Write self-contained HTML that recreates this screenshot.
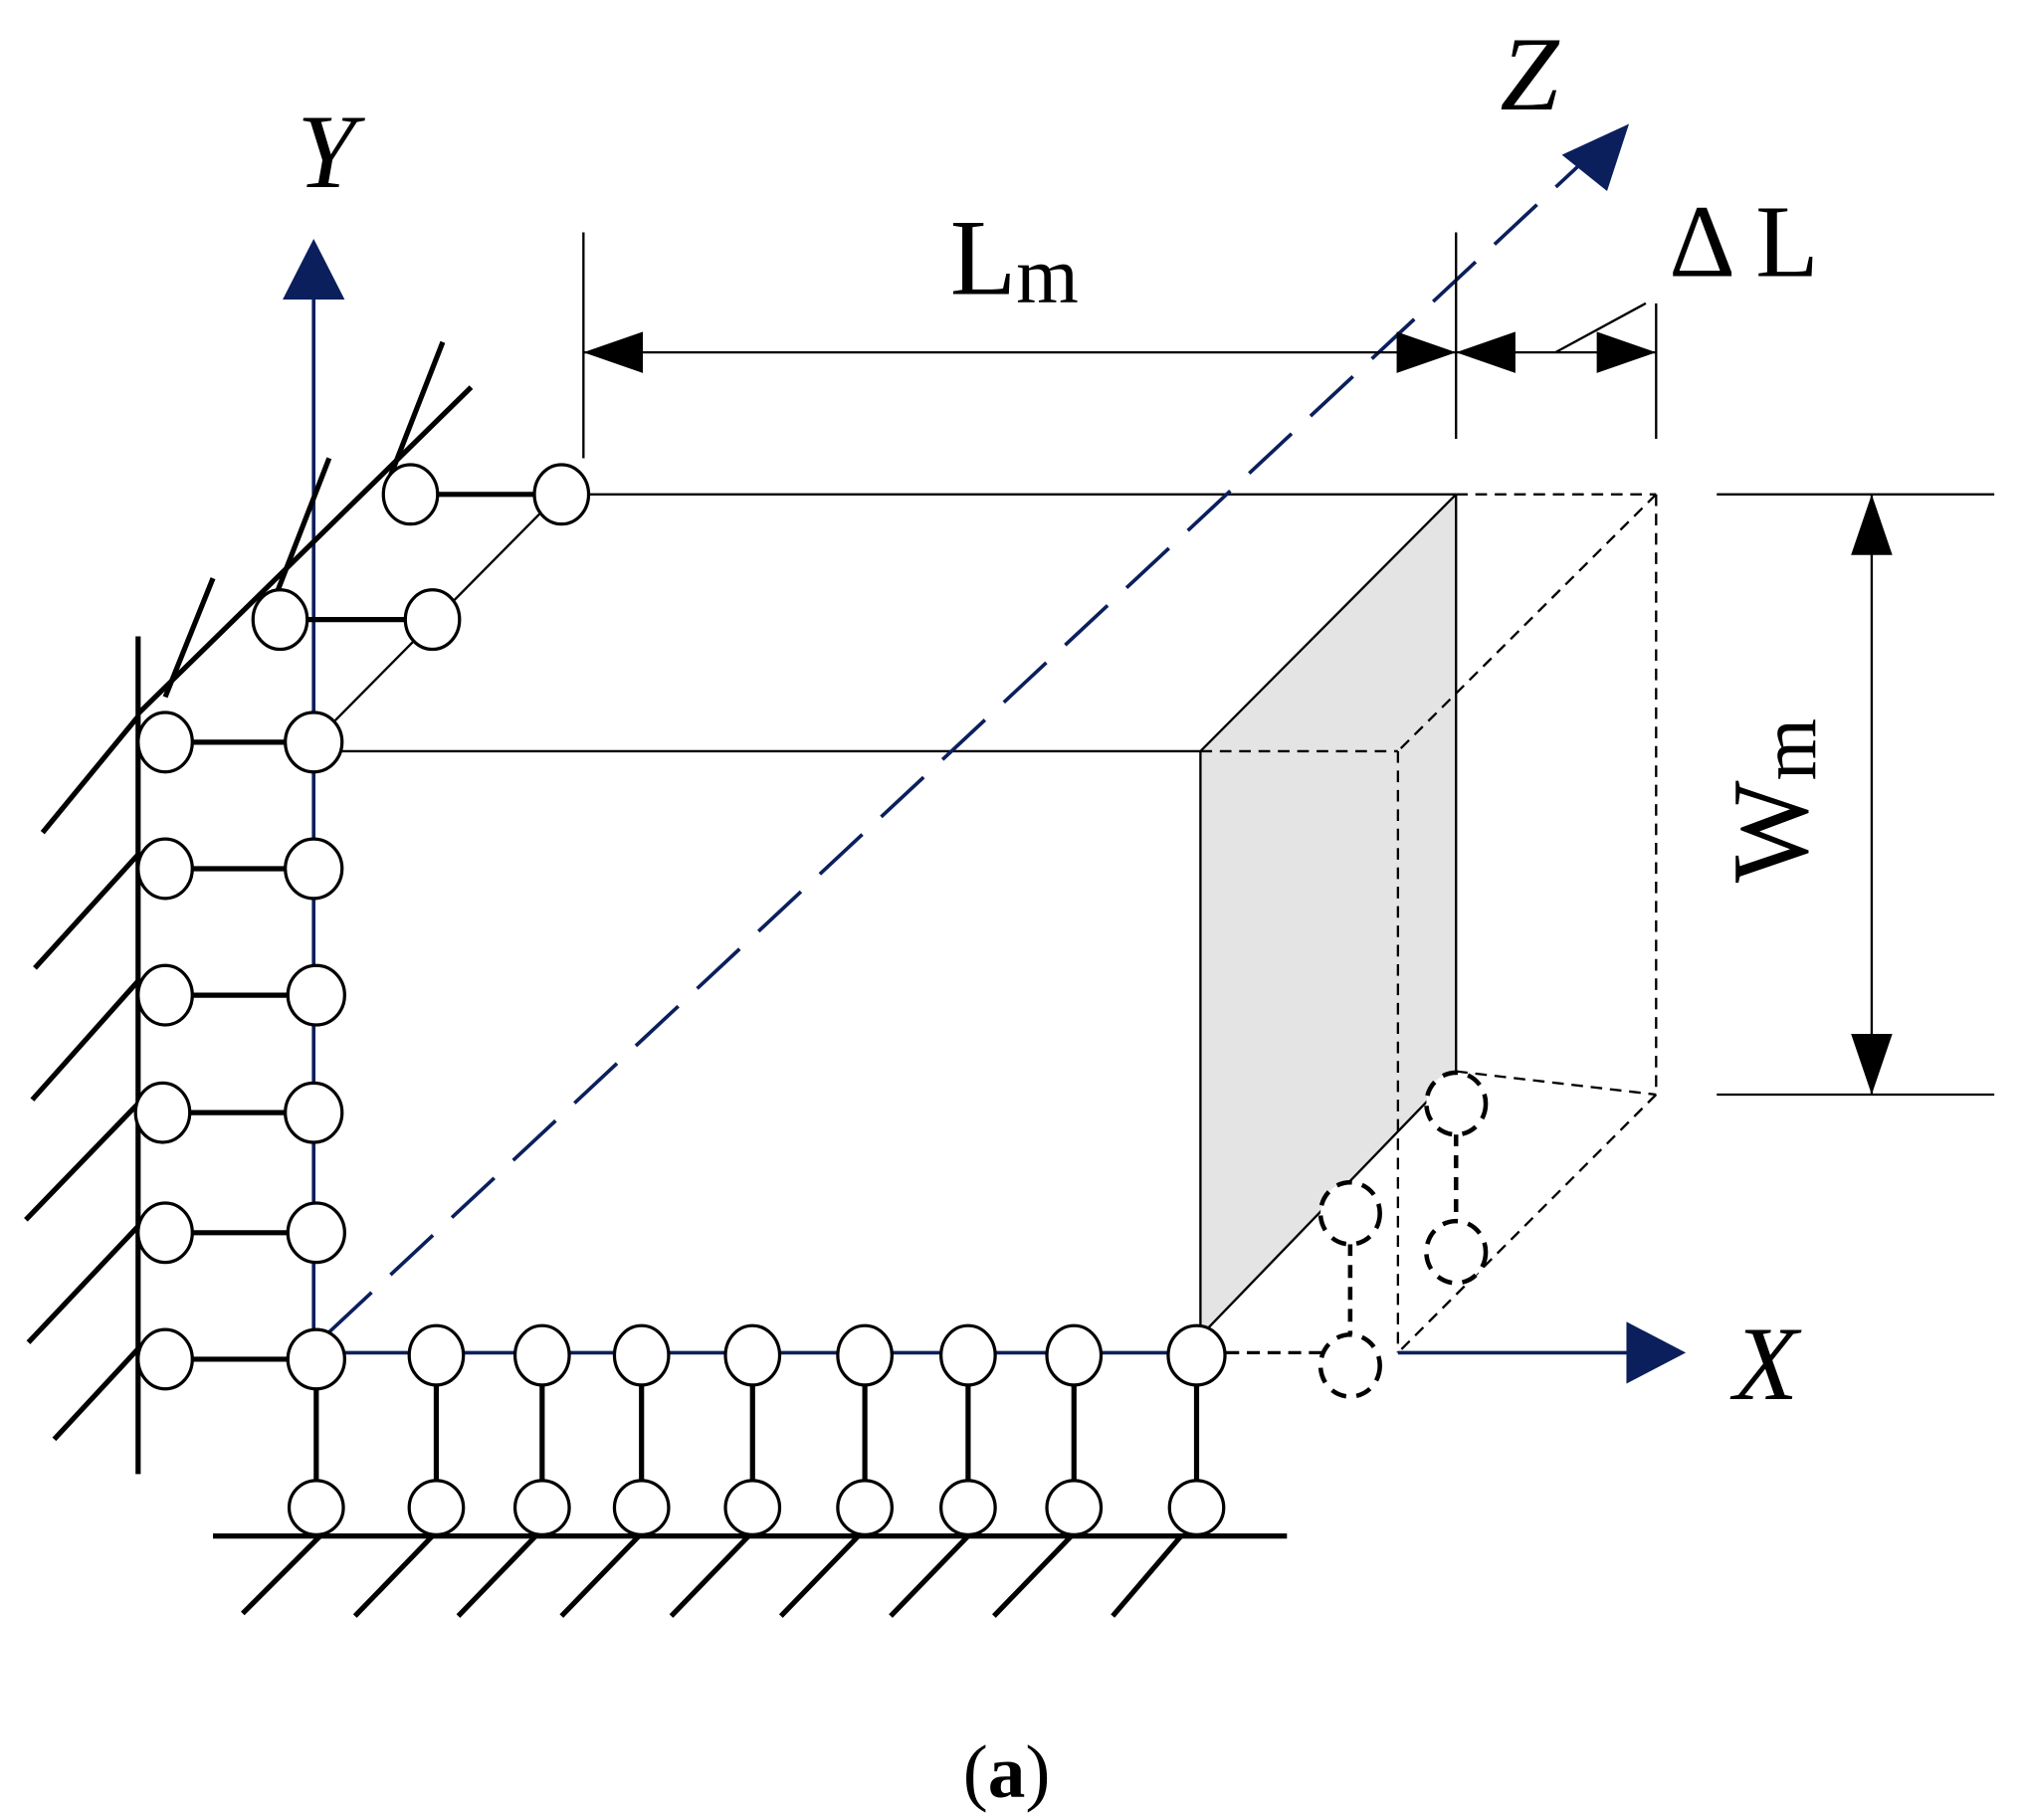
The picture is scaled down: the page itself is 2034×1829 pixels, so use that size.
<!DOCTYPE html>
<html><head><meta charset="utf-8"><style>html,body{margin:0;padding:0;background:#fff}svg{display:block}</style></head><body>
<svg width="2034" height="1829" viewBox="0 0 1568 1410" preserveAspectRatio="none" xmlns="http://www.w3.org/2000/svg">
<rect width="1568" height="1410" fill="#fff"/>
<polygon points="930,582 1128,383 1128,830 930,1035" fill="#e4e4e4"/>
<g stroke="#000" stroke-width="1.8" fill="none">
<line x1="455" y1="383" x2="1128" y2="383"/>
<line x1="243" y1="582" x2="930" y2="582"/>
<line x1="433" y1="383" x2="243" y2="575"/>
<line x1="1128" y1="383" x2="930" y2="582"/>
<line x1="930" y1="582" x2="930" y2="1035"/>
<line x1="1128" y1="383" x2="1128" y2="830"/>
<line x1="1128" y1="830" x2="930" y2="1035"/>
</g>
<g stroke="#000" stroke-width="1.8" fill="none" stroke-dasharray="9,6">
<line x1="1128" y1="383" x2="1283" y2="383"/>
<line x1="1283" y1="383" x2="1283" y2="848"/>
<line x1="1283" y1="383" x2="1083" y2="582"/>
<line x1="930" y1="582" x2="1083" y2="582"/>
<line x1="1083" y1="582" x2="1083" y2="1048"/>
<line x1="1128" y1="830" x2="1283" y2="848"/>
<line x1="1283" y1="848" x2="1083" y2="1048"/>
</g>
<g stroke="#0a1f5c" stroke-width="2.8" fill="none">
<line x1="243" y1="1050" x2="243" y2="228"/>
<line x1="243" y1="1048" x2="950" y2="1048"/>
<line x1="1083" y1="1048" x2="1262" y2="1048"/>
<line x1="255" y1="1032" x2="1232" y2="120" stroke-dasharray="45,20"/>
</g>
<line x1="950" y1="1048" x2="1030" y2="1048" stroke="#000" stroke-width="2.5" stroke-dasharray="10,6"/>
<g fill="#0a1f5c">
<polygon points="243,185 219,232 267,232"/>
<polygon points="1306,1048 1260,1024 1260,1072"/>
<polygon points="1262,96 1210,120 1245,148"/>
</g>
<g font-family="Liberation Serif, serif" font-style="italic" font-size="82" fill="#000">
<text x="230" y="145">Y</text>
<text x="1162" y="85">Z</text>
<text x="1343" y="1084">X</text>
</g>
<g stroke="#000" stroke-width="1.8" fill="none">
<line x1="452" y1="180" x2="452" y2="355"/>
<line x1="1128" y1="180" x2="1128" y2="340"/>
<line x1="1283" y1="235" x2="1283" y2="340"/>
<line x1="452" y1="273" x2="1283" y2="273"/>
<line x1="1205" y1="273" x2="1275" y2="235"/>
<line x1="1330" y1="383" x2="1545" y2="383"/>
<line x1="1330" y1="848" x2="1545" y2="848"/>
<line x1="1450" y1="383" x2="1450" y2="848"/>
</g>
<g fill="#000">
<polygon points="452,273 498,257 498,289"/>
<polygon points="1128,273 1082,257 1082,289"/>
<polygon points="1128,273 1174,257 1174,289"/>
<polygon points="1283,273 1237,257 1237,289"/>
<polygon points="1450,383 1434,430 1466,430"/>
<polygon points="1450,848 1434,801 1466,801"/>
</g>
<g font-family="Liberation Serif, serif" fill="#000">
<text x="736" y="228" font-size="84">L<tspan font-size="62" dy="6">m</tspan></text>
<text x="1293" y="214" font-size="80">Δ L</text>
<text transform="translate(1400,684) rotate(-90)" font-size="84">W<tspan font-size="62" dy="6">m</tspan></text>
<text x="746" y="1392" font-size="58">(<tspan font-weight="bold">a</tspan>)</text>
</g>
<g stroke="#000" stroke-width="4" fill="none">
<line x1="107" y1="493" x2="107" y2="1142"/>
<line x1="107" y1="555" x2="33" y2="645"/>
<line x1="107" y1="662" x2="27" y2="750"/>
<line x1="107" y1="760" x2="25" y2="852"/>
<line x1="107" y1="855" x2="20" y2="945"/>
<line x1="107" y1="950" x2="22" y2="1040"/>
<line x1="107" y1="1045" x2="42" y2="1115"/>
<line x1="107" y1="553" x2="365" y2="300"/>
<line x1="128" y1="540" x2="165" y2="448"/>
<line x1="215" y1="458" x2="255" y2="355"/>
<line x1="302" y1="370" x2="343" y2="265"/>
<line x1="165" y1="1190" x2="997" y2="1190"/>
<line x1="248" y1="1190" x2="188" y2="1250"/>
<line x1="335" y1="1190" x2="275" y2="1252"/>
<line x1="415" y1="1190" x2="355" y2="1252"/>
<line x1="495" y1="1190" x2="435" y2="1252"/>
<line x1="580" y1="1190" x2="520" y2="1252"/>
<line x1="665" y1="1190" x2="605" y2="1252"/>
<line x1="750" y1="1190" x2="690" y2="1252"/>
<line x1="830" y1="1190" x2="770" y2="1252"/>
<line x1="915" y1="1190" x2="862" y2="1252"/>
<line x1="128" y1="575" x2="243" y2="575"/>
<line x1="128" y1="673" x2="243" y2="673"/>
<line x1="128" y1="771" x2="243" y2="771"/>
<line x1="128" y1="862" x2="243" y2="862"/>
<line x1="128" y1="955" x2="243" y2="955"/>
<line x1="128" y1="1053" x2="243" y2="1053"/>
<line x1="318" y1="383" x2="435" y2="383"/>
<line x1="217" y1="480" x2="335" y2="480"/>
<line x1="245" y1="1053" x2="245" y2="1168"/>
<line x1="338" y1="1050" x2="338" y2="1168"/>
<line x1="420" y1="1050" x2="420" y2="1168"/>
<line x1="497" y1="1050" x2="497" y2="1168"/>
<line x1="583" y1="1050" x2="583" y2="1168"/>
<line x1="670" y1="1050" x2="670" y2="1168"/>
<line x1="750" y1="1050" x2="750" y2="1168"/>
<line x1="832" y1="1050" x2="832" y2="1168"/>
<line x1="927" y1="1050" x2="927" y2="1168"/>
</g>
<g stroke="#000" stroke-width="2.5" fill="#fff">
<ellipse cx="128" cy="575" rx="21" ry="23"/><ellipse cx="243" cy="575" rx="22" ry="23"/>
<ellipse cx="128" cy="673" rx="21" ry="23"/><ellipse cx="243" cy="673" rx="22" ry="23"/>
<ellipse cx="128" cy="771" rx="21" ry="23"/><ellipse cx="245" cy="771" rx="22" ry="23"/>
<ellipse cx="126" cy="862" rx="21" ry="23"/><ellipse cx="243" cy="862" rx="22" ry="23"/>
<ellipse cx="128" cy="955" rx="21" ry="23"/><ellipse cx="245" cy="955" rx="22" ry="23"/>
<ellipse cx="128" cy="1053" rx="21" ry="23"/><ellipse cx="245" cy="1053" rx="22" ry="23"/>
<ellipse cx="318" cy="383" rx="21" ry="23"/><ellipse cx="435" cy="383" rx="21" ry="23"/>
<ellipse cx="217" cy="480" rx="21" ry="23"/><ellipse cx="335" cy="480" rx="21" ry="23"/>
<ellipse cx="338" cy="1050" rx="21" ry="23"/><ellipse cx="420" cy="1050" rx="21" ry="23"/>
<ellipse cx="497" cy="1050" rx="21" ry="23"/><ellipse cx="583" cy="1050" rx="21" ry="23"/>
<ellipse cx="670" cy="1050" rx="21" ry="23"/><ellipse cx="750" cy="1050" rx="21" ry="23"/>
<ellipse cx="832" cy="1050" rx="21" ry="23"/><ellipse cx="927" cy="1050" rx="22" ry="23"/>
<ellipse cx="245" cy="1168" rx="21" ry="21"/><ellipse cx="338" cy="1168" rx="21" ry="21"/>
<ellipse cx="420" cy="1168" rx="21" ry="21"/><ellipse cx="497" cy="1168" rx="21" ry="21"/>
<ellipse cx="583" cy="1168" rx="21" ry="21"/><ellipse cx="670" cy="1168" rx="21" ry="21"/>
<ellipse cx="750" cy="1168" rx="21" ry="21"/><ellipse cx="832" cy="1168" rx="21" ry="21"/>
<ellipse cx="927" cy="1168" rx="21" ry="21"/>
</g>
<g stroke="#000" stroke-width="3.5" fill="none" stroke-dasharray="10,7">
<line x1="1046" y1="963" x2="1046" y2="1035"/>
<line x1="1128" y1="878" x2="1128" y2="948"/>
</g>
<g stroke="#000" stroke-width="3.5" fill="#fff" stroke-dasharray="12,8">
<ellipse cx="1046" cy="1058" rx="23" ry="24"/>
<ellipse cx="1046" cy="940" rx="23" ry="24"/>
<ellipse cx="1128" cy="855" rx="23" ry="24"/>
<ellipse cx="1128" cy="970" rx="23" ry="24"/>
</g>
</svg>
</body></html>
